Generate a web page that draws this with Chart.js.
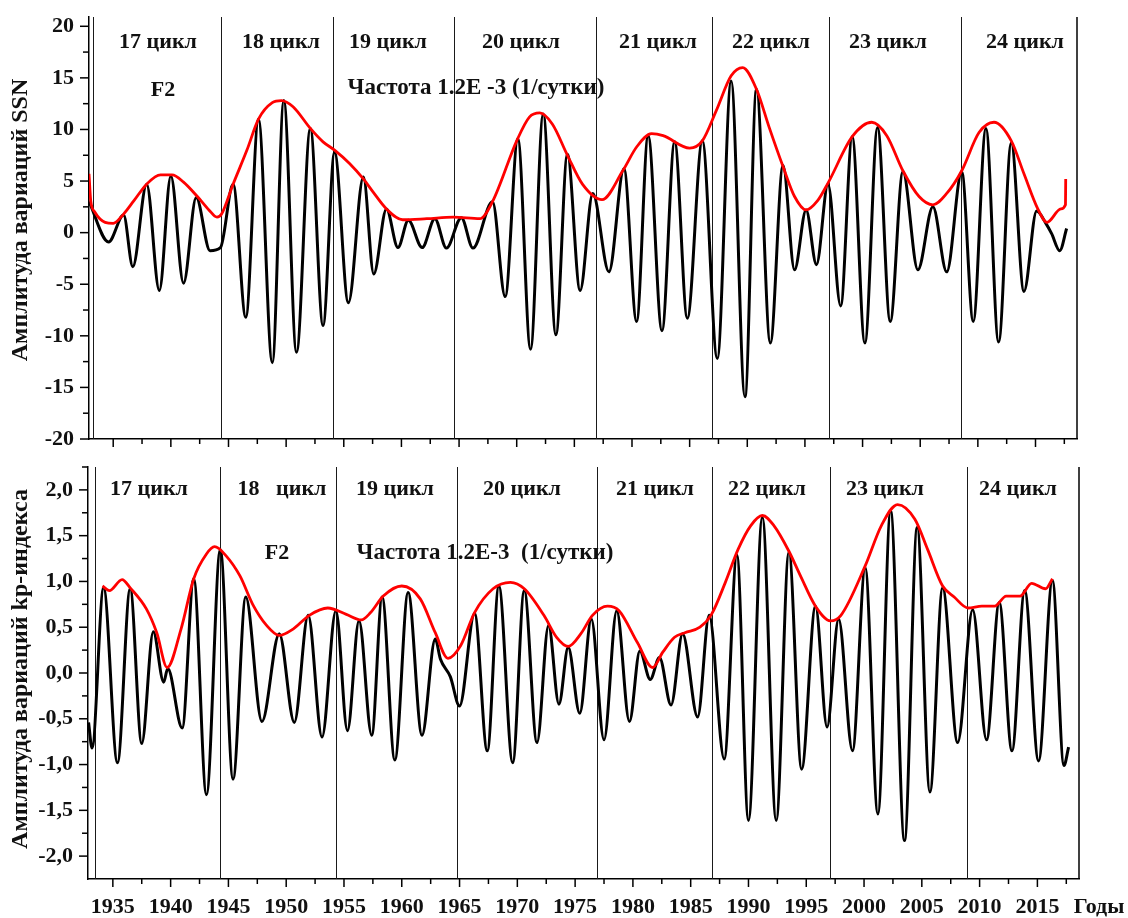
<!DOCTYPE html>
<html>
<head>
<meta charset="utf-8">
<script src="https://cdn.jsdelivr.net/npm/chart.js@4.4.1/dist/chart.umd.min.js"></script>
<style>
  html, body { margin: 0; padding: 0; background: #fff; }
  #wrap { position: relative; width: 1128px; height: 918px; background: #fff; overflow: hidden; }
  canvas { position: absolute; left: 0; }
  #ssnChart { top: 0; width: 1128px; height: 455px; }
  #kpChart { top: 455px; width: 1128px; height: 463px; }
</style>
</head>
<body>
<div id="wrap">
  <canvas id="ssnChart" width="1128" height="455"></canvas>
  <canvas id="kpChart" width="1128" height="463"></canvas>
</div>
<script>
// ---- SSN variation amplitude, frequency 1.2E-3 1/day (turning points) ----
const ssnYears = [1932.9, 1934.6, 1935.9, 1936.7, 1937.9, 1939.0, 1940.0, 1941.1, 1942.2, 1943.4,
  1944.3, 1945.4, 1946.5, 1947.6, 1948.8, 1949.8, 1950.9, 1952.1, 1953.2, 1954.2,
  1955.4, 1956.7, 1957.6, 1958.7, 1959.7, 1960.6, 1961.8, 1962.9, 1963.9, 1965.2,
  1966.2, 1967.9, 1969.0, 1970.1, 1971.2, 1972.3, 1973.4, 1974.4, 1975.5, 1976.6,
  1978.0, 1979.3, 1980.4, 1981.4, 1982.6, 1983.7, 1984.8, 1986.1, 1987.4, 1988.6,
  1989.8, 1990.8, 1992.0, 1993.1, 1994.1, 1995.1, 1996.0, 1997.0, 1998.1, 1999.1,
  2000.2, 2001.3, 2002.4, 2003.5, 2004.8, 2006.1, 2007.3, 2008.6, 2009.6, 2010.7,
  2011.8, 2012.9, 2014.0, 2015.1, 2015.9, 2016.4, 2017.1, 2017.7];
const ssnValues = [3.0, -0.9, 1.7, -3.3, 4.7, -5.6, 5.5, -4.9, 3.4, -1.75,
  -1.45, 4.7, -8.2, 11.0, -12.6, 12.8, -11.6, 10.1, -9.0, 7.8,
  -6.8, 5.4, -4.0, 2.3, -1.45, 1.2, -1.45, 1.35, -1.5, 1.45,
  -1.5, 3.0, -6.2, 9.1, -11.3, 11.5, -9.9, 7.6, -5.6, 3.8,
  -3.8, 6.2, -8.6, 9.4, -9.5, 8.8, -8.3, 8.9, -12.2, 14.7,
  -15.9, 13.9, -10.7, 6.5, -3.6, 2.2, -3.1, 4.7, -7.1, 9.3,
  -10.7, 10.2, -8.6, 5.9, -3.6, 2.5, -3.8, 5.9, -8.6, 10.1,
  -10.6, 8.7, -5.7, 2.1, 0.9, -0.1, -1.75, 0.4];

// ---- SSN envelope ----
const ssnEnvYears = [1932.9, 1933.05, 1933.4, 1934.3, 1935.0, 1935.9, 1936.8, 1937.9, 1939.1, 1940.1,
  1941.1, 1942.3, 1943.3, 1944.0, 1944.4, 1945.4, 1946.6, 1947.6, 1948.8, 1949.6,
  1950.6, 1952.1, 1953.2, 1954.2, 1955.5, 1956.7, 1957.5, 1958.7, 1960.1, 1962.2,
  1964.5, 1966.8, 1967.9, 1970.0, 1971.1, 1972.0, 1973.1, 1974.4, 1975.7, 1977.4,
  1979.2, 1980.4, 1981.7, 1982.7, 1985.0, 1986.1, 1987.3, 1988.6, 1989.6, 1990.8,
  1991.9, 1993.1, 1994.1, 1995.1, 1996.1, 1997.0, 1999.1, 2000.8, 2002.1, 2003.5,
  2004.9, 2006.1, 2007.3, 2008.6, 2010.1, 2011.4, 2012.9, 2014.0, 2015.2, 2016.0,
  2017.2, 2017.6, 2017.62];
const ssnEnvValues = [5.7, 3.1, 2.0, 1.0, 0.9, 1.8, 3.1, 4.7, 5.6, 5.6,
  4.9, 3.5, 2.2, 1.5, 1.8, 4.7, 8.0, 11.0, 12.6, 12.8,
  12.2, 10.1, 8.8, 8.0, 6.7, 5.2, 4.0, 2.3, 1.25, 1.35,
  1.5, 1.35, 3.0, 8.9, 11.2, 11.6, 10.5, 7.5, 4.7, 3.2,
  6.0, 8.3, 9.6, 9.4, 8.2, 8.9, 11.8, 15.2, 16.0, 13.9,
  10.2, 6.4, 3.5, 2.2, 3.1, 4.8, 9.3, 10.7, 9.4, 6.0,
  3.5, 2.7, 3.8, 6.0, 9.7, 10.7, 8.9, 5.7, 2.3, 1.0,
  2.3, 2.7, 5.2];

// ---- kp-index variation amplitude (turning points) ----
const kpYears = [1932.9, 1933.2, 1934.2, 1935.4, 1936.5, 1937.5, 1938.5, 1939.4, 1939.75, 1941.0,
  1942.0, 1943.1, 1944.3, 1945.4, 1946.5, 1947.9, 1949.4, 1950.7, 1951.9, 1953.1,
  1954.3, 1955.3, 1956.3, 1957.4, 1958.3, 1959.4, 1960.55, 1961.75, 1962.9, 1963.35,
  1964.2, 1965.0, 1966.3, 1967.4, 1968.4, 1969.6, 1970.6, 1971.7, 1972.7, 1973.6,
  1974.4, 1975.4, 1976.4, 1977.5, 1978.6, 1979.7, 1980.6, 1981.5, 1982.3, 1983.3,
  1984.3, 1985.6, 1986.6, 1987.9, 1989.0, 1990.0, 1991.2, 1992.4, 1993.5, 1994.6,
  1995.8, 1996.8, 1997.8, 1999.0, 2000.1, 2001.2, 2002.3, 2003.5, 2004.6, 2005.7,
  2006.8, 2008.1, 2009.4, 2010.6, 2011.7, 2012.8, 2013.9, 2015.1, 2016.3, 2017.3,
  2017.7];
const kpValues = [-0.54, -0.82, 0.93, -0.98, 0.92, -0.77, 0.45, -0.1, 0.05, -0.6,
  1.03, -1.33, 1.35, -1.16, 0.83, -0.53, 0.43, -0.54, 0.63, -0.70,
  0.68, -0.63, 0.57, -0.68, 0.83, -0.95, 0.88, -0.68, 0.37, 0.15,
  -0.04, -0.36, 0.65, -0.85, 0.95, -0.98, 0.90, -0.76, 0.52, -0.34,
  0.28, -0.44, 0.59, -0.73, 0.68, -0.53, 0.24, -0.07, 0.17, -0.35,
  0.43, -0.48, 0.63, -0.94, 1.29, -1.61, 1.70, -1.61, 1.32, -1.05,
  0.73, -0.59, 0.59, -0.85, 1.15, -1.54, 1.77, -1.83, 1.59, -1.30,
  0.93, -0.76, 0.69, -0.73, 0.77, -0.85, 0.90, -0.96, 1.01, -1.01,
  -0.81];

// ---- kp-index envelope ----
const kpEnvYears = [1934.1, 1934.7, 1935.8, 1936.5, 1937.9, 1938.8, 1939.7, 1940.9, 1942.0, 1943.1,
  1943.8, 1944.8, 1946.0, 1947.1, 1948.3, 1949.4, 1950.6, 1952.0, 1953.6, 1955.2,
  1956.5, 1957.3, 1958.4, 1960.0, 1961.6, 1962.9, 1964.0, 1965.1, 1966.3, 1967.9,
  1969.4, 1970.6, 1972.3, 1973.4, 1974.4, 1975.5, 1976.5, 1977.8, 1978.8, 1980.4,
  1981.7, 1982.6, 1983.6, 1984.5, 1985.8, 1986.8, 1988.0, 1989.1, 1990.2, 1991.2,
  1992.2, 1993.5, 1994.5, 1995.8, 1997.1, 1998.0, 2000.1, 2001.5, 2002.9, 2004.4,
  2005.5, 2006.8, 2007.8, 2009.0, 2010.2, 2011.3, 2012.3, 2013.5, 2014.5, 2015.7,
  2016.3];
const kpEnvValues = [0.95, 0.90, 1.02, 0.93, 0.70, 0.44, 0.06, 0.48, 1.03, 1.30,
  1.38, 1.28, 1.06, 0.75, 0.52, 0.41, 0.48, 0.63, 0.71, 0.64,
  0.58, 0.66, 0.84, 0.95, 0.81, 0.44, 0.16, 0.30, 0.66, 0.92,
  0.99, 0.92, 0.63, 0.39, 0.29, 0.43, 0.63, 0.73, 0.68, 0.33,
  0.06, 0.23, 0.39, 0.44, 0.50, 0.64, 0.99, 1.35, 1.61, 1.72,
  1.61, 1.33, 1.06, 0.73, 0.57, 0.63, 1.17, 1.61, 1.84, 1.68,
  1.35, 0.95, 0.83, 0.71, 0.73, 0.73, 0.84, 0.84, 0.98, 0.92,
  1.03];

// ---- solar cycle boundaries (years) ----
const cycleStartSSN = [1933.25, 1944.35, 1954.05, 1964.55, 1976.86, 1986.92, 1997.07, 2008.52];
const cycleStartKp = [1933.44, 1944.26, 1954.31, 1964.78, 1976.9, 1986.86, 1997.08, 2008.94];
const cycleNames = ['17 цикл', '18 цикл', '19 цикл', '20 цикл', '21 цикл', '22 цикл', '23 цикл', '24 цикл'];
const cycleNamesKp = ['17 цикл', '18   цикл', '19 цикл', '20 цикл', '21 цикл', '22 цикл', '23 цикл', '24 цикл'];

// ---- tick labels ----
const yearTicks = [1935, 1940, 1945, 1950, 1955, 1960, 1965, 1970, 1975, 1980, 1985, 1990, 1995, 2000, 2005, 2010, 2015];
const ssnTicks = [-20, -15, -10, -5, 0, 5, 10, 15, 20];
const kpTicks = [-2.0, -1.5, -1.0, -0.5, 0.0, 0.5, 1.0, 1.5, 2.0];

const FONT = '"Liberation Serif", "Times New Roman", serif';
const pts = (xs, ys) => xs.map((x, i) => ({ x: x, y: ys[i] }));

// frame, cycle separators, tick marks and in-plot captions
const decor = {
  id: 'decor',
  beforeDatasetsDraw(chart, args, o) {
    const { ctx, chartArea: a, scales: { x } } = chart;
    ctx.save();
    ctx.strokeStyle = '#1a1a1a';
    ctx.lineWidth = 1;
    for (const yr of o.cycles) {
      const px = Math.round(x.getPixelForValue(yr)) + 0.5;
      ctx.beginPath(); ctx.moveTo(px, a.top); ctx.lineTo(px, a.bottom); ctx.stroke();
    }
    ctx.strokeStyle = '#000';
    ctx.lineWidth = 1.5;
    ctx.beginPath(); ctx.moveTo(a.right, a.top); ctx.lineTo(a.right, a.bottom); ctx.stroke();
    ctx.restore();
  },
  afterDraw(chart, args, o) {
    const { ctx, chartArea: a, scales: { x, y } } = chart;
    ctx.save();
    ctx.strokeStyle = '#000';
    ctx.lineWidth = 1.5;
    // y tick marks: majors at labels, minors halfway
    const yt = o.yTicks, ys = yt[1] - yt[0];
    yt.forEach(v => {
      const py = y.getPixelForValue(v);
      ctx.beginPath(); ctx.moveTo(a.left - 9, py); ctx.lineTo(a.left, py); ctx.stroke();
      const m = v + ys / 2;
      if (m <= y.max) {
        const pm = y.getPixelForValue(m);
        ctx.beginPath(); ctx.moveTo(a.left - 6, pm); ctx.lineTo(a.left, pm); ctx.stroke();
      }
    });
    // x tick marks
    const xs = yearTicks[1] - yearTicks[0];
    yearTicks.forEach(v => {
      const px = x.getPixelForValue(v);
      ctx.beginPath(); ctx.moveTo(px, a.bottom); ctx.lineTo(px, a.bottom + 8); ctx.stroke();
      const m = v + xs / 2;
      if (m <= x.max) {
        const pm = x.getPixelForValue(m);
        ctx.beginPath(); ctx.moveTo(pm, a.bottom); ctx.lineTo(pm, a.bottom + 5); ctx.stroke();
      }
    });
    // captions
    ctx.fillStyle = '#111';
    ctx.textAlign = 'center';
    ctx.textBaseline = 'middle';
    for (const t of o.texts) {
      ctx.font = 'bold ' + (t.size || 22) + 'px ' + FONT;
      if (t.rot) {
        ctx.save();
        ctx.translate(t.x, t.y);
        ctx.rotate(-Math.PI / 2);
        ctx.fillText(t.t, 0, 0);
        ctx.restore();
      } else {
        ctx.fillText(t.t, t.x, t.y);
      }
    }
    ctx.restore();
  }
};

function makeChart(id, cfg) {
  return new Chart(document.getElementById(id), {
    type: 'line',
    data: {
      datasets: [
        { data: cfg.env, borderColor: '#ff0000', borderWidth: 2.8, pointRadius: 0,
          cubicInterpolationMode: 'monotone', order: 0 },
        { data: cfg.main, borderColor: '#000000', borderWidth: 3, pointRadius: 0,
          cubicInterpolationMode: 'monotone', order: 1 }
      ]
    },
    options: {
      responsive: false,
      animation: false,
      devicePixelRatio: 1,
      layout: { padding: cfg.padding },
      plugins: { legend: { display: false }, tooltip: { enabled: false }, decor: cfg.decor },
      scales: {
        x: {
          type: 'linear', min: cfg.xMin, max: cfg.xMax,
          grid: { display: false, drawTicks: false },
          border: { display: true, color: '#000', width: 1.5 },
          afterBuildTicks: s => { s.ticks = yearTicks.map(v => ({ value: v })); },
          afterFit: s => {
            s.height = cfg.xHeight;
            s.paddingLeft = 0; s.paddingRight = 0; s.paddingTop = 0; s.paddingBottom = 0;
          },
          ticks: {
            display: cfg.xLabels, autoSkip: false, maxRotation: 0, minRotation: 0,
            padding: 15, color: '#111',
            font: { family: FONT, size: 22, weight: 'bold' },
            callback: v => String(v)
          }
        },
        y: {
          type: 'linear', min: cfg.yMin, max: cfg.yMax,
          grid: { display: false, drawTicks: false },
          border: { display: true, color: '#000', width: 1.5 },
          afterBuildTicks: s => { s.ticks = cfg.yTicks.map(v => ({ value: v })); },
          afterFit: s => {
            s.width = cfg.yWidth;
            s.paddingLeft = 0; s.paddingRight = 0; s.paddingTop = 0; s.paddingBottom = 0;
          },
          ticks: {
            padding: 15, color: '#111',
            font: { family: FONT, size: 22, weight: 'bold' },
            callback: cfg.yFmt
          }
        }
      }
    },
    plugins: [decor]
  });
}

const ssnCyclePos = [158, 281, 388, 521, 658, 771, 888, 1025];
const kpCyclePos = [149, 282, 395, 522, 655, 767, 885, 1018];

makeChart('ssnChart', {
  main: pts(ssnYears, ssnValues),
  env: pts(ssnEnvYears, ssnEnvValues),
  xMin: 1932.9, xMax: 2018.6, yMin: -20, yMax: 20.9,
  yTicks: ssnTicks, yFmt: v => String(v),
  padding: { left: 0, top: 17, right: 51, bottom: 16 },
  xHeight: 0, yWidth: 89, xLabels: false,
  decor: {
    cycles: cycleStartSSN,
    yTicks: ssnTicks,
    texts: cycleNames.map((t, i) => ({ t: t, x: ssnCyclePos[i], y: 42 })).concat([
      { t: 'F2', x: 163, y: 90 },
      { t: 'Частота 1.2E -3 (1/сутки)', x: 476, y: 88, size: 23 },
      { t: 'Амплитуда вариаций SSN', x: 21, y: 220, rot: true, size: 24 }
    ])
  }
});

makeChart('kpChart', {
  main: pts(kpYears, kpValues),
  env: pts(kpEnvYears, kpEnvValues),
  xMin: 1932.85, xMax: 2018.6, yMin: -2.25, yMax: 2.25,
  yTicks: kpTicks, yFmt: v => v.toFixed(1).replace('.', ','),
  padding: { left: 0, top: 12, right: 49, bottom: 0 },
  xHeight: 39, yWidth: 88, xLabels: true,
  decor: {
    cycles: cycleStartKp,
    yTicks: kpTicks,
    texts: cycleNamesKp.map((t, i) => ({ t: t, x: kpCyclePos[i], y: 34 })).concat([
      { t: 'F2', x: 277, y: 98 },
      { t: 'Частота 1.2E-3  (1/сутки)', x: 485, y: 98, size: 23 },
      { t: 'Амплитуда вариаций kp-индекса', x: 21, y: 214, rot: true, size: 24 },
      { t: 'Годы', x: 1099, y: 452 }
    ])
  }
});
</script>
</body>
</html>
